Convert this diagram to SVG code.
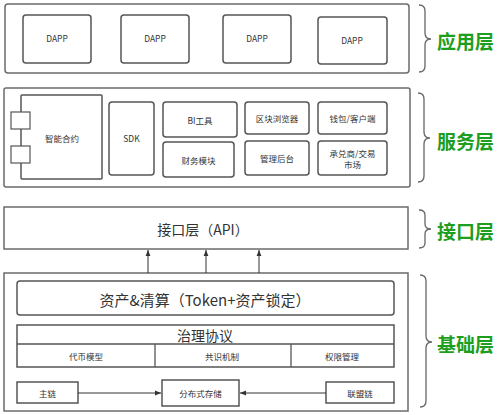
<svg xmlns="http://www.w3.org/2000/svg" width="500" height="415" viewBox="0 0 500 415">
<style>
.outer{fill:#fff;stroke:#6b6b6b;stroke-width:1.5}
.box{fill:#fff;stroke:#555;stroke-width:1.5}
.sq{fill:#fff;stroke:#555;stroke-width:1.2}
.t{font-family:"Noto Sans CJK SC","Noto Sans",sans-serif;fill:#333;text-anchor:middle;dominant-baseline:central}
.s{font-size:8.5px}
.m{font-size:14px}
.lbl{font-family:"Noto Sans CJK SC",sans-serif;font-size:19px;font-weight:bold;fill:#1e9e1e;dominant-baseline:central}
.brace{fill:none;stroke:#666;stroke-width:1.3}
.ln{stroke:#333;stroke-width:1;fill:none}
</style>
<defs>
<marker id="ah" viewBox="0 0 10 10" refX="10" refY="5" markerWidth="6" markerHeight="6" orient="auto-start-reverse" markerUnits="userSpaceOnUse">
<path d="M0,1 L10,5 L0,9 z" fill="#333"/>
</marker>
</defs>

<g id="app-layer">
<rect class="outer" x="5" y="4" width="404" height="69" rx="3"/>
<g id="dapp1"><rect class="box" x="23" y="15" width="68" height="48" rx="3"/><text class="t s" x="57" y="38">DAPP</text></g>
<g id="dapp2"><rect class="box" x="121" y="15" width="68" height="48" rx="3"/><text class="t s" x="155" y="38">DAPP</text></g>
<g id="dapp3"><rect class="box" x="223" y="15" width="68" height="48" rx="3"/><text class="t s" x="257" y="38">DAPP</text></g>
<g id="dapp4"><rect class="box" x="318" y="17" width="69" height="47" rx="3"/><text class="t s" x="352" y="40">DAPP</text></g>
</g>

<g id="service-layer">
<rect class="outer" x="4" y="88" width="406" height="99" rx="2"/>
<g id="smart-contract">
<rect class="box" x="21" y="95" width="81" height="84" rx="1"/>
<rect class="sq" x="11" y="112" width="19" height="17"/>
<rect class="sq" x="11" y="146" width="19" height="17"/>
<text class="t s" x="62" y="138">智能合约</text>
</g>
<g id="sdk"><rect class="box" x="109" y="102" width="45" height="73" rx="3"/><text class="t s" x="131.5" y="138">SDK</text></g>
<g id="bi"><rect class="box" x="163" y="102" width="74" height="35" rx="3"/><text class="t s" x="200" y="119.5">BI工具</text></g>
<g id="finance"><rect class="box" x="163" y="142" width="71" height="35" rx="3"/><text class="t s" x="198.5" y="159.5">财务模块</text></g>
<g id="explorer"><rect class="box" x="245" y="102" width="64" height="32" rx="3"/><text class="t s" x="277" y="118">区块浏览器</text></g>
<g id="wallet"><rect class="box" x="318" y="102" width="69" height="32" rx="3"/><text class="t s" x="352.5" y="118">钱包/客户端</text></g>
<g id="admin"><rect class="box" x="245" y="141" width="64" height="34" rx="3"/><text class="t s" x="277" y="158">管理后台</text></g>
<g id="market"><rect class="box" x="318" y="141" width="69" height="34" rx="3"/><text class="t s" x="352.5" y="152.5">承兑商/交易</text><text class="t s" x="352.5" y="163.5">市场</text></g>
</g>

<g id="api-layer">
<rect class="outer" x="4" y="207" width="404" height="42"/>
<text class="t m" x="203" y="229">接口层（API）</text>
</g>

<g id="base-layer">
<rect class="outer" x="4" y="273" width="404" height="138"/>
<g id="asset"><rect class="box" x="17" y="281" width="377" height="34" rx="3"/><text class="t m" x="205" y="299" style="font-size:15px">资产&amp;清算（Token+资产锁定）</text></g>
<g id="governance">
<rect class="box" x="17" y="325" width="377" height="42" rx="0"/>
<line class="ln" x1="17" y1="344" x2="394" y2="344" style="stroke:#555;stroke-width:1.3"/>
<line class="ln" x1="155" y1="344" x2="155" y2="367" style="stroke:#555;stroke-width:1.3"/>
<line class="ln" x1="291" y1="344" x2="291" y2="367" style="stroke:#555;stroke-width:1.3"/>
<text class="t m" x="205" y="335">治理协议</text>
<text class="t s" x="86" y="356">代币模型</text>
<text class="t s" x="222" y="356">共识机制</text>
<text class="t s" x="342" y="356">权限管理</text>
</g>
<g id="mainchain"><rect class="box" x="17" y="382" width="61" height="21"/><text class="t s" x="47.5" y="392.5">主链</text></g>
<g id="storage"><rect class="box" x="162" y="380" width="77" height="26"/><text class="t s" x="200.5" y="393">分布式存储</text></g>
<g id="consortium"><rect class="box" x="326" y="382" width="68" height="21"/><text class="t s" x="360" y="392.5">联盟链</text></g>
</g>

<g id="connectors">
<line class="ln" x1="148" y1="273" x2="148" y2="250" marker-end="url(#ah)"/>
<line class="ln" x1="206" y1="273" x2="206" y2="250" marker-end="url(#ah)"/>
<line class="ln" x1="259" y1="273" x2="259" y2="250" marker-end="url(#ah)"/>
<line class="ln" x1="78" y1="393" x2="161" y2="393" marker-end="url(#ah)"/>
<line class="ln" x1="326" y1="393" x2="240" y2="393" marker-end="url(#ah)"/>
</g>

<g id="braces">
<path class="brace" d="M419,5 Q425,5 425,11 L425,33 Q425,39 431,39 Q425,39 425,45 L425,66 Q425,72 419,72"/>
<text class="lbl" x="437" y="40">应用层</text>
<path class="brace" d="M418,93 Q424,93 424,99 L424,132 Q424,138 430,138 Q424,138 424,144 L424,176 Q424,182 418,182"/>
<text class="lbl" x="437" y="140">服务层</text>
<path class="brace" d="M419,210 Q425,210 425,215 L425,224 Q425,229 431,229 Q425,229 425,234 L425,243 Q425,248 419,248"/>
<text class="lbl" x="437" y="230">接口层</text>
<path class="brace" d="M420,275 Q426,275 426,281 L426,336 Q426,342 432,342 Q426,342 426,348 L426,401 Q426,407 420,407"/>
<text class="lbl" x="437" y="343">基础层</text>
</g>
</svg>
